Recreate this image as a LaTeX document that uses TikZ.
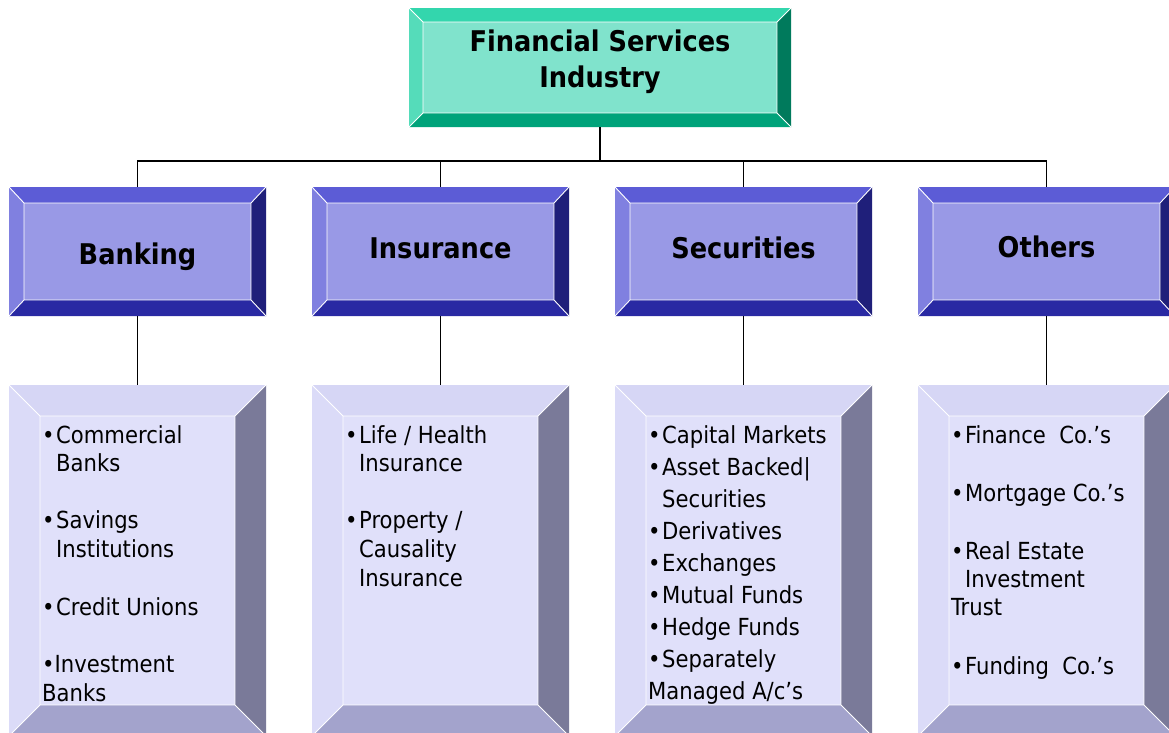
\documentclass[tikz,border=0pt]{standalone}
\usepackage{fontspec}
\setmainfont{DejaVu Sans Condensed}
\usetikzlibrary{calc}

% bevel shades: face, top, left, right, bottom
\definecolor{tealF}{HTML}{80E3CC}
\definecolor{tealT}{HTML}{33D6AD}
\definecolor{tealL}{HTML}{55DCBA}
\definecolor{tealR}{HTML}{007A5C}
\definecolor{tealB}{HTML}{00A37A}
\definecolor{blueF}{HTML}{9999E6}
\definecolor{blueT}{HTML}{5C5CD6}
\definecolor{blueL}{HTML}{8080E0}
\definecolor{blueR}{HTML}{1F1F7A}
\definecolor{blueB}{HTML}{2929A3}
\definecolor{paleF}{HTML}{E0E0FA}
\definecolor{paleT}{HTML}{D6D6F5}
\definecolor{paleL}{HTML}{DBDBF8}
\definecolor{paleR}{HTML}{7A7A99}
\definecolor{paleB}{HTML}{A3A3CC}

% \bevbox{x0}{y0}{x1}{y1}{bevel x}{bevel y}{colour prefix}
\newcommand\bevbox[7]{%
  \fill[#7T] (#1,#2) -- (#3,#2) -- ({#3-#5},{#2+#6}) -- ({#1+#5},{#2+#6}) -- cycle;
  \fill[#7L] (#1,#2) -- ({#1+#5},{#2+#6}) -- ({#1+#5},{#4-#6}) -- (#1,#4) -- cycle;
  \fill[#7R] (#3,#2) -- ({#3-#5},{#2+#6}) -- ({#3-#5},{#4-#6}) -- (#3,#4) -- cycle;
  \fill[#7B] (#1,#4) -- ({#1+#5},{#4-#6}) -- ({#3-#5},{#4-#6}) -- (#3,#4) -- cycle;
  \fill[#7F] ({#1+#5},{#2+#6}) rectangle ({#3-#5},{#4-#6});
  \draw[white, line width=0.9pt]
    ({#1+#5},{#2+#6}) rectangle ({#3-#5},{#4-#6})
    (#1,#2) -- ({#1+#5},{#2+#6})
    (#3,#2) -- ({#3-#5},{#2+#6})
    (#1,#4) -- ({#1+#5},{#4-#6})
    (#3,#4) -- ({#3-#5},{#4-#6});
}

\tikzset{
  boxarea/.style={draw=none, inner sep=0pt, minimum width=#1},
  titletxt/.style={font=\fontsize{28.5}{36}\selectfont\bfseries, align=center, inner sep=0pt},
  headtxt/.style={font=\fontsize{28.5}{34}\selectfont\bfseries, anchor=base, inner sep=0pt},
  itemtxt/.style={font=\fontsize{23.5}{28}\selectfont, anchor=base west, inner sep=0pt},
  link/.style={line width=1.6pt, black},
}
\newcommand\bul{\makebox[14pt][l]{•}}
\newcommand\ind{\hspace*{14pt}}

\begin{document}
\begin{tikzpicture}[x=1pt, y=-1pt]
\useasboundingbox (0,0) rectangle (1169,732);
\fill[white] (0,0) rectangle (1169,732);

% top box
\bevbox{409}{8}{791}{127}{14}{14}{teal}
\node[boxarea=382pt, minimum height=119pt] (fsi) at (600,67.5) {};
\node[titletxt] (fsiT) at (600,62) {Financial Services\\Industry};

% category boxes
\bevbox{9}{187}{266}{316}{15}{16}{blue}
\bevbox{312}{187}{569}{316}{15}{16}{blue}
\bevbox{615}{187}{872}{316}{15}{16}{blue}
\bevbox{918}{187}{1175}{316}{15}{16}{blue}
\node[boxarea=257pt, minimum height=129pt] (bank) at (137.5,251.5) {};
\node[boxarea=257pt, minimum height=129pt] (ins)  at (440.5,251.5) {};
\node[boxarea=257pt, minimum height=129pt] (sec)  at (743.5,251.5) {};
\node[boxarea=257pt, minimum height=129pt] (oth)  at (1046.5,251.5) {};
\node[headtxt] (bankT) at (137.5,264) {Banking};
\node[headtxt] (insT)  at (440.5,258) {Insurance};
\node[headtxt] (secT)  at (743.5,258) {Securities};
\node[headtxt] (othT)  at (1046.5,257) {Others};

% list boxes
\bevbox{9}{385}{266}{736}{31}{31}{pale}
\bevbox{312}{385}{569}{736}{31}{31}{pale}
\bevbox{615}{385}{872}{736}{31}{31}{pale}
\bevbox{918}{385}{1175}{736}{31}{31}{pale}
\node[boxarea=257pt, minimum height=351pt] (bankL) at (137.5,560.5) {};
\node[boxarea=257pt, minimum height=351pt] (insL)  at (440.5,560.5) {};
\node[boxarea=257pt, minimum height=351pt] (secL)  at (743.5,560.5) {};
\node[boxarea=257pt, minimum height=351pt] (othL)  at (1046.5,560.5) {};

% connectors
\coordinate (hub) at (600,161);
\draw[link] (fsi.south) -- (hub);
\draw[link] (bank.north) -- (bank.north |- hub) -- (oth.north |- hub) -- (oth.north);
\draw[link] (ins.north) -- (ins.north |- hub);
\draw[link] (sec.north) -- (sec.north |- hub);
\draw[link] (bank.south) -- (bankL.north);
\draw[link] (ins.south) -- (insL.north);
\draw[link] (sec.south) -- (secL.north);
\draw[link] (oth.south) -- (othL.north);

% Banking list
\node[itemtxt] (b1) at (42,443) {\bul Commercial};
\node[itemtxt] (b2) at (42,471) {\ind Banks};
\node[itemtxt] (b3) at (42,528) {\bul Savings};
\node[itemtxt] (b4) at (42,557) {\ind Institutions};
\node[itemtxt] (b5) at (42,615) {\bul Credit Unions};
\node[itemtxt] (b6) at (42,672) {•Investment};
\node[itemtxt] (b7) at (42,701) {Banks};

% Insurance list
\node[itemtxt] (i1) at (345,443) {\bul Life / Health};
\node[itemtxt] (i2) at (345,471) {\ind Insurance};
\node[itemtxt] (i3) at (345,528) {\bul Property /};
\node[itemtxt] (i4) at (345,557) {\ind Causality};
\node[itemtxt] (i5) at (345,586) {\ind Insurance};

% Securities list
\node[itemtxt] (s1) at (648,443) {\bul Capital Markets};
\node[itemtxt] (s2) at (648,475) {\bul Asset Backed|};
\node[itemtxt] (s3) at (648,507) {\ind Securities};
\node[itemtxt] (s4) at (648,539) {\bul Derivatives};
\node[itemtxt] (s5) at (648,571) {\bul Exchanges};
\node[itemtxt] (s6) at (648,603) {\bul Mutual Funds};
\node[itemtxt] (s7) at (648,635) {\bul Hedge Funds};
\node[itemtxt] (s8) at (648,667) {\bul Separately};
\node[itemtxt] (s9) at (648,699) {Managed A/c’s};

% Others list
\node[itemtxt] (o1) at (951,443) {\bul Finance\ \ Co.’s};
\node[itemtxt] (o2) at (951,501) {\bul Mortgage Co.’s};
\node[itemtxt] (o3) at (951,559) {\bul Real Estate};
\node[itemtxt] (o4) at (951,587) {\ind Investment};
\node[itemtxt] (o5) at (951,615) {Trust};
\node[itemtxt] (o6) at (951,674) {\bul Funding\ \ Co.’s};
\end{tikzpicture}
\end{document}
